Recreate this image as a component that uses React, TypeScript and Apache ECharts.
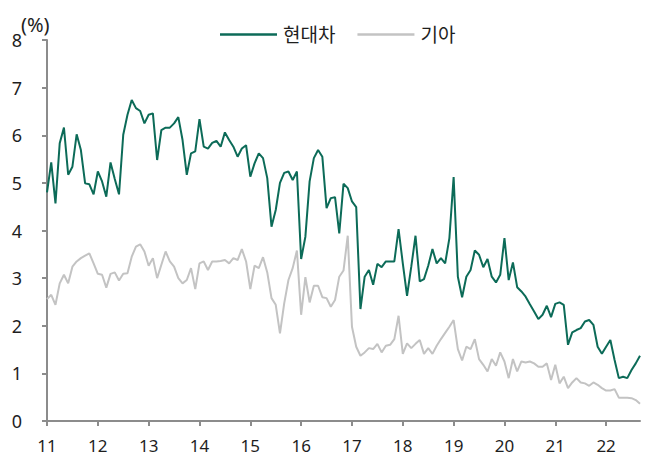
import React, { useEffect, useRef } from "react";
import * as echarts from "echarts";

const years = ["11", "12", "13", "14", "15", "16", "17", "18", "19", "20", "21", "22"];

const hyundai2011 = [4.80, 5.43, 4.57, 5.83, 6.16, 5.17, 5.34, 6.02, 5.69, 4.99, 4.97, 4.76];
const hyundai2012 = [5.24, 5.03, 4.71, 5.43, 5.08, 4.76, 6.01, 6.43, 6.74, 6.57, 6.51, 6.25];
const hyundai2013 = [6.43, 6.46, 5.48, 6.11, 6.16, 6.16, 6.25, 6.38, 5.90, 5.17, 5.62, 5.66];
const hyundai2014 = [6.34, 5.76, 5.72, 5.84, 5.88, 5.76, 6.06, 5.90, 5.76, 5.55, 5.72, 5.79];
const hyundai2015 = [5.13, 5.41, 5.62, 5.52, 5.10, 4.08, 4.43, 5.00, 5.21, 5.24, 5.06, 5.24];
const hyundai2016 = [3.40, 3.87, 5.03, 5.52, 5.69, 5.55, 4.47, 4.68, 4.70, 3.94, 4.98, 4.89];
const hyundai2017 = [4.61, 4.49, 2.35, 3.03, 3.17, 2.86, 3.30, 3.23, 3.35, 3.35, 3.35, 4.03];
const hyundai2018 = [3.31, 2.63, 3.24, 3.89, 2.93, 2.98, 3.26, 3.61, 3.31, 3.42, 3.31, 3.84];
const hyundai2019 = [5.12, 3.03, 2.60, 3.03, 3.17, 3.58, 3.49, 3.23, 3.40, 3.03, 2.91, 3.07];
const hyundai2020 = [3.84, 2.96, 3.33, 2.81, 2.72, 2.61, 2.45, 2.30, 2.14, 2.23, 2.42, 2.18];
const hyundai2021 = [2.46, 2.49, 2.44, 1.60, 1.86, 1.91, 1.95, 2.09, 2.12, 2.02, 1.56, 1.41];
const hyundai2022 = [1.56, 1.70, 1.28, 0.90, 0.93, 0.90, 1.07, 1.21, 1.37];

const kia2011 = [2.56, 2.65, 2.44, 2.89, 3.07, 2.89, 3.24, 3.35, 3.42, 3.47, 3.52, 3.31];
const kia2012 = [3.09, 3.07, 2.80, 3.09, 3.12, 2.95, 3.09, 3.10, 3.45, 3.66, 3.71, 3.56];
const kia2013 = [3.26, 3.42, 3.00, 3.28, 3.56, 3.35, 3.24, 3.00, 2.89, 2.96, 3.21, 2.77];
const kia2014 = [3.31, 3.35, 3.17, 3.35, 3.35, 3.36, 3.38, 3.31, 3.42, 3.38, 3.61, 3.35];
const kia2015 = [2.77, 3.26, 3.21, 3.44, 3.12, 2.58, 2.44, 1.84, 2.47, 2.96, 3.21, 3.58];
const kia2016 = [2.23, 3.02, 2.49, 2.84, 2.84, 2.60, 2.58, 2.40, 2.54, 3.03, 3.16, 3.89];
const kia2017 = [1.98, 1.56, 1.37, 1.44, 1.53, 1.51, 1.62, 1.44, 1.58, 1.60, 1.72, 2.21];
const kia2018 = [1.41, 1.63, 1.53, 1.62, 1.70, 1.41, 1.53, 1.41, 1.58, 1.72, 1.85, 1.98];
const kia2019 = [2.12, 1.51, 1.27, 1.56, 1.51, 1.72, 1.30, 1.18, 1.04, 1.30, 1.16, 1.44];
const kia2020 = [1.25, 0.90, 1.30, 1.04, 1.25, 1.23, 1.25, 1.21, 1.14, 1.14, 1.21, 0.86];
const kia2021 = [1.18, 0.79, 0.93, 0.69, 0.81, 0.90, 0.81, 0.79, 0.74, 0.81, 0.76, 0.69];
const kia2022 = [0.64, 0.64, 0.67, 0.49, 0.49, 0.49, 0.48, 0.44, 0.36];

const hyundai = [
  ...hyundai2011, ...hyundai2012, ...hyundai2013, ...hyundai2014, ...hyundai2015, ...hyundai2016,
  ...hyundai2017, ...hyundai2018, ...hyundai2019, ...hyundai2020, ...hyundai2021, ...hyundai2022,
];
const kia = [
  ...kia2011, ...kia2012, ...kia2013, ...kia2014, ...kia2015, ...kia2016,
  ...kia2017, ...kia2018, ...kia2019, ...kia2020, ...kia2021, ...kia2022,
];

const months: string[] = [];
for (let i = 0; i < hyundai.length; i++) {
  const y = years[Math.floor(i / 12)];
  const m = (i % 12) + 1;
  months.push(y + "." + (m < 10 ? "0" + m : "" + m));
}

const FONT = "'Noto Sans', 'Noto Sans CJK KR', sans-serif";
const AXIS_COLOR = "#8c8c8c";
const TEXT_COLOR = "#1e1e1e";

export default function App() {
  const ref = useRef<HTMLDivElement>(null);
  useEffect(() => {
    if (!ref.current) return;
    const chart = echarts.init(ref.current, undefined, { renderer: "svg" });
    chart.setOption({
      animation: false,
      backgroundColor: "#ffffff",
      textStyle: { fontFamily: FONT },
      title: {
        text: "(%)",
        left: 16,
        top: 9,
        textStyle: { fontSize: 20, fontWeight: "normal", color: TEXT_COLOR, fontFamily: FONT },
      },
      grid: { left: 47, right: 18, top: 40, bottom: 44, containLabel: false },
      legend: {
        left: 215,
        top: 20,
        icon: "rect",
        itemWidth: 57,
        itemHeight: 2.5,
        itemGap: 22,
        textStyle: { fontSize: 19, color: TEXT_COLOR, fontFamily: FONT, padding: [0, 0, 0, 1] },
        data: ["현대차", "기아"],
      },
      xAxis: {
        type: "category",
        data: months,
        boundaryGap: false,
        axisLine: { lineStyle: { color: AXIS_COLOR, width: 2 } },
        axisTick: { interval: 11, length: 5, lineStyle: { color: AXIS_COLOR, width: 2 } },
        axisLabel: {
          interval: 11,
          margin: 16,
          fontSize: 17,
          color: TEXT_COLOR,
          fontFamily: FONT,
          formatter: (v: string) => v.split(".")[0],
        },
        splitLine: { show: false },
      },
      yAxis: {
        type: "value",
        min: 0,
        max: 8,
        interval: 1,
        axisLine: { show: true, lineStyle: { color: AXIS_COLOR, width: 2 } },
        axisTick: { show: true, length: 5, lineStyle: { color: AXIS_COLOR, width: 2 } },
        axisLabel: { margin: 25, fontSize: 18, color: TEXT_COLOR, fontFamily: FONT },
        splitLine: { show: false },
      },
      series: [
        {
          name: "현대차",
          type: "line",
          data: hyundai,
          symbol: "none",
          lineStyle: { color: "#0c6b58", width: 2 },
          itemStyle: { color: "#0c6b58" },
          z: 3,
        },
        {
          name: "기아",
          type: "line",
          data: kia,
          symbol: "none",
          lineStyle: { color: "#c3c3c3", width: 2 },
          itemStyle: { color: "#c3c3c3" },
          z: 2,
        },
      ],
    });
    return () => chart.dispose();
  }, []);
  return (
    <div
      ref={ref}
      style={{ position: "fixed", left: 0, top: 0, width: 658, height: 465, background: "#fff" }}
    />
  );
}
